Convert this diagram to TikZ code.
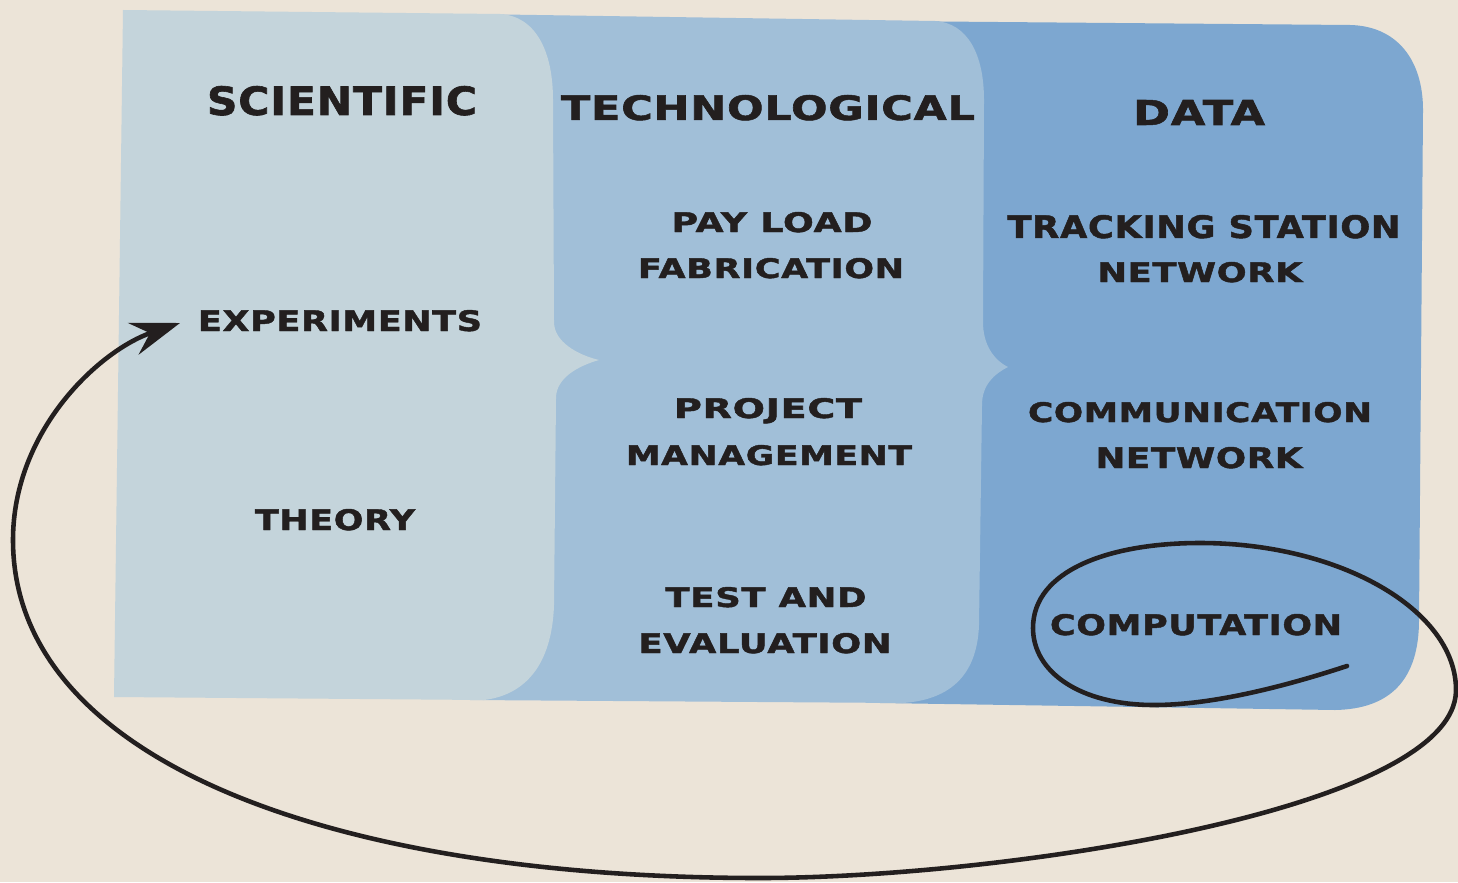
\documentclass[tikz,border=0pt]{standalone}
\usepackage{fontspec}
\usepackage{graphicx}
\usetikzlibrary{arrows.meta}
\newfontfamily\lblfont{DejaVu Sans Bold}[LetterSpace=2, FakeBold=1.5]
\newlength\pxu
\setlength\pxu{0.01cm}
% caption scaled to a given width and cap height (in px units)
\newcommand{\fitlbl}[3]{\resizebox{#1\pxu}{#2\pxu}{\lblfont #3}}
\definecolor{paper}{HTML}{ECE4D8}
\definecolor{sciblue}{HTML}{C4D4DB}
\definecolor{techblue}{HTML}{A1BFD8}
\definecolor{datablue}{HTML}{7DA7D0}
\definecolor{ink}{HTML}{231F1F}
\begin{document}
\begin{tikzpicture}[x=0.01cm, y=-0.01cm,
  txt/.style={inner sep=0pt, anchor=base, text=ink},
  loopline/.style={draw=ink, line width=1.3pt, line cap=round,
    -{Stealth[length=14pt, width=9.5pt, inset=5pt]}}]
\useasboundingbox[fill=paper] (0,0) rectangle (1458,882);

% DATA panel
\fill[datablue] (880,21) -- (1350,25) .. controls (1397,26) and (1423,60) .. (1423,110)
  -- (1419,620) .. controls (1419,680) and (1390,709) .. (1335,710) -- (880,703) -- cycle;
% TECHNOLOGICAL panel, brace-shaped right edge
\fill[techblue] (470,14) -- (935,21) .. controls (968,23) and (984,55) .. (984,100)
  -- (983,322) .. controls (983,345) and (994,360) .. (1008,367)
  .. controls (994,374) and (982,385) .. (982,405)
  -- (979,625) .. controls (977,680) and (945,700) .. (903,703) -- (470,700) -- cycle;
% SCIENTIFIC panel, brace-shaped right edge
\fill[sciblue] (123,10) -- (500,14) .. controls (535,16) and (553,50) .. (553,100)
  -- (554,322) .. controls (554,342) and (578,355) .. (599,360)
  .. controls (578,366) and (556,378) .. (556,398)
  -- (554,605) .. controls (552,665) and (525,695) .. (484,700) -- (114,697) -- cycle;

% column headings
\node[txt] (sci)  at (342,115) {\fitlbl{270}{29}{SCIENTIFIC}};
\node[txt] (tech) at (768,120) {\fitlbl{414}{25}{TECHNOLOGICAL}};
\node[txt] (data) at (1199,125) {\fitlbl{132}{25}{DATA}};

% scientific column
\node[txt] (exp) at (340,331) {\fitlbl{284}{21}{EXPERIMENTS}};
\node[txt] (theory) at (335,530) {\fitlbl{160}{21}{THEORY}};

% technological column
\node[txt] (pay)  at (772,232) {\fitlbl{201}{20}{PAY LOAD}};
\node[txt] (fab)  at (771,278) {\fitlbl{266}{20}{FABRICATION}};
\node[txt] (proj) at (768,418) {\fitlbl{188}{20}{PROJECT}};
\node[txt] (mgmt) at (769,465) {\fitlbl{286}{20}{MANAGEMENT}};
\node[txt] (test) at (766,607) {\fitlbl{201}{20}{TEST AND}};
\node[txt] (eval) at (765,653) {\fitlbl{253}{20}{EVALUATION}};

% data column
\node[txt] (track) at (1204,238) {\fitlbl{393}{23}{TRACKING STATION}};
\node[txt] (tnet)  at (1200,282) {\fitlbl{205}{20}{NETWORK}};
\node[txt] (comm)  at (1200,422) {\fitlbl{344}{20}{COMMUNICATION}};
\node[txt] (cnet)  at (1199,468) {\fitlbl{207}{21}{NETWORK}};
\node[txt] (comp)  at (1196,635) {\fitlbl{292}{21}{COMPUTATION}};

% feedback loop: around COMPUTATION, under the panels, back to EXPERIMENTS
\coordinate (loopstart) at (1347,666);
\coordinate (looptip) at (180,323);
\draw[loopline] (loopstart)
  .. controls (1280,688) and (1210,705) .. (1154,705)
  .. controls (1080,705) and (1033,672) .. (1033,628)
  .. controls (1033,570) and (1110,543) .. (1200,543)
  .. controls (1340,543) and (1456,610) .. (1456,690)
  .. controls (1456,810) and (1000,878) .. (760,878)
  .. controls (330,878) and (13,760) .. (13,540)
  .. controls (13,430) and (100,350) .. (looptip);
\end{tikzpicture}
\end{document}
